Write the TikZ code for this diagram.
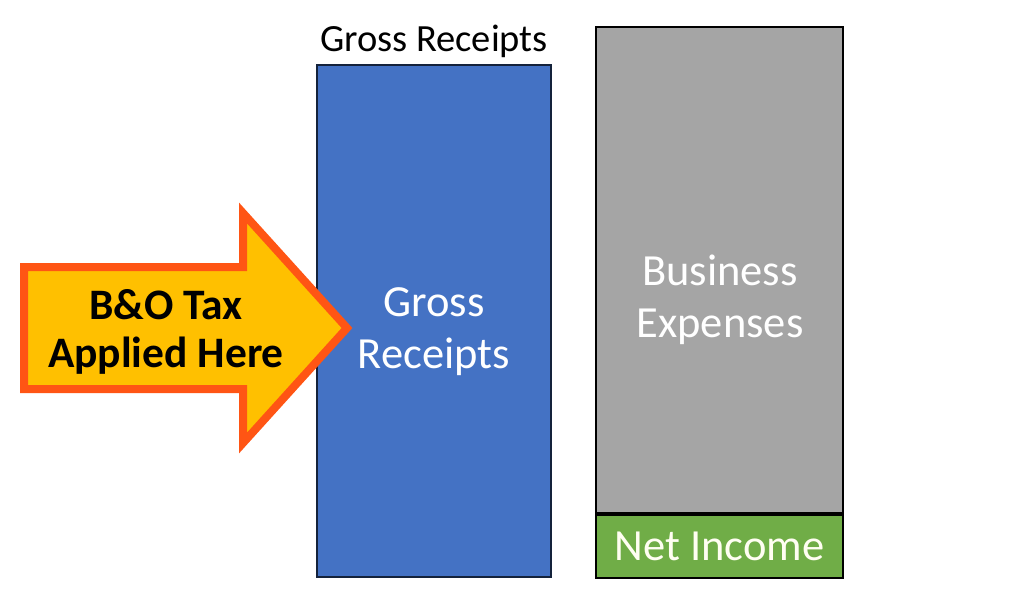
\documentclass[tikz,border=0pt]{standalone}
\usepackage{fontspec}
\setmainfont{Carlito}
\usetikzlibrary{positioning}

\definecolor{grossblue}{HTML}{4472C4}
\definecolor{costgray}{HTML}{A5A5A5}
\definecolor{netgreen}{HTML}{70AD47}
\definecolor{taxfill}{HTML}{FFC000}
\definecolor{taxedge}{HTML}{FF5514}

\begin{document}
\begin{tikzpicture}[x=1pt, y=-1pt,
    every node/.style={inner sep=0pt, align=center},
    bar/.style={rectangle, draw=black, line width=2pt},
    bartext/.style={text=white, font=\fontsize{44.5}{52}\selectfont}]
    \useasboundingbox (0,0) rectangle (1024,594);

    % bars
    \node[bar, fill=grossblue, draw=grossblue!30!black, minimum width=234pt, minimum height=512pt] (gross) at (434,321) {};
    \node[bar, fill=costgray, minimum width=247pt, minimum height=486pt] (expenses) at (719.5,270) {};
    \node[bar, fill=netgreen, minimum width=247pt, minimum height=63pt, below=0pt of expenses] (net) {};

    \node[above=6pt of gross, font=\fontsize{38.5}{44}\selectfont] (title) {Gross Receipts};
    \node[bartext] (grosslabel) at (434,332) {Gross\\Receipts};
    \node[bartext] (expenseslabel) at (720,300) {Business\\Expenses};
    \node[bartext, text=white!95!yellow] (netlabel) at (net.center) {Net Income};

    % tax arrow
    \draw[line width=8pt, line join=miter, draw=taxedge, fill=taxfill]
        (24,267) -- (243,267) -- (243,213) -- (347,328) -- (243,443) -- (243,389) -- (24,389) -- cycle;
    \node[font=\bfseries\fontsize{43.5}{48}\selectfont] (taxlabel) at (166,332) {B\&O Tax\\Applied Here};
\end{tikzpicture}
\end{document}
